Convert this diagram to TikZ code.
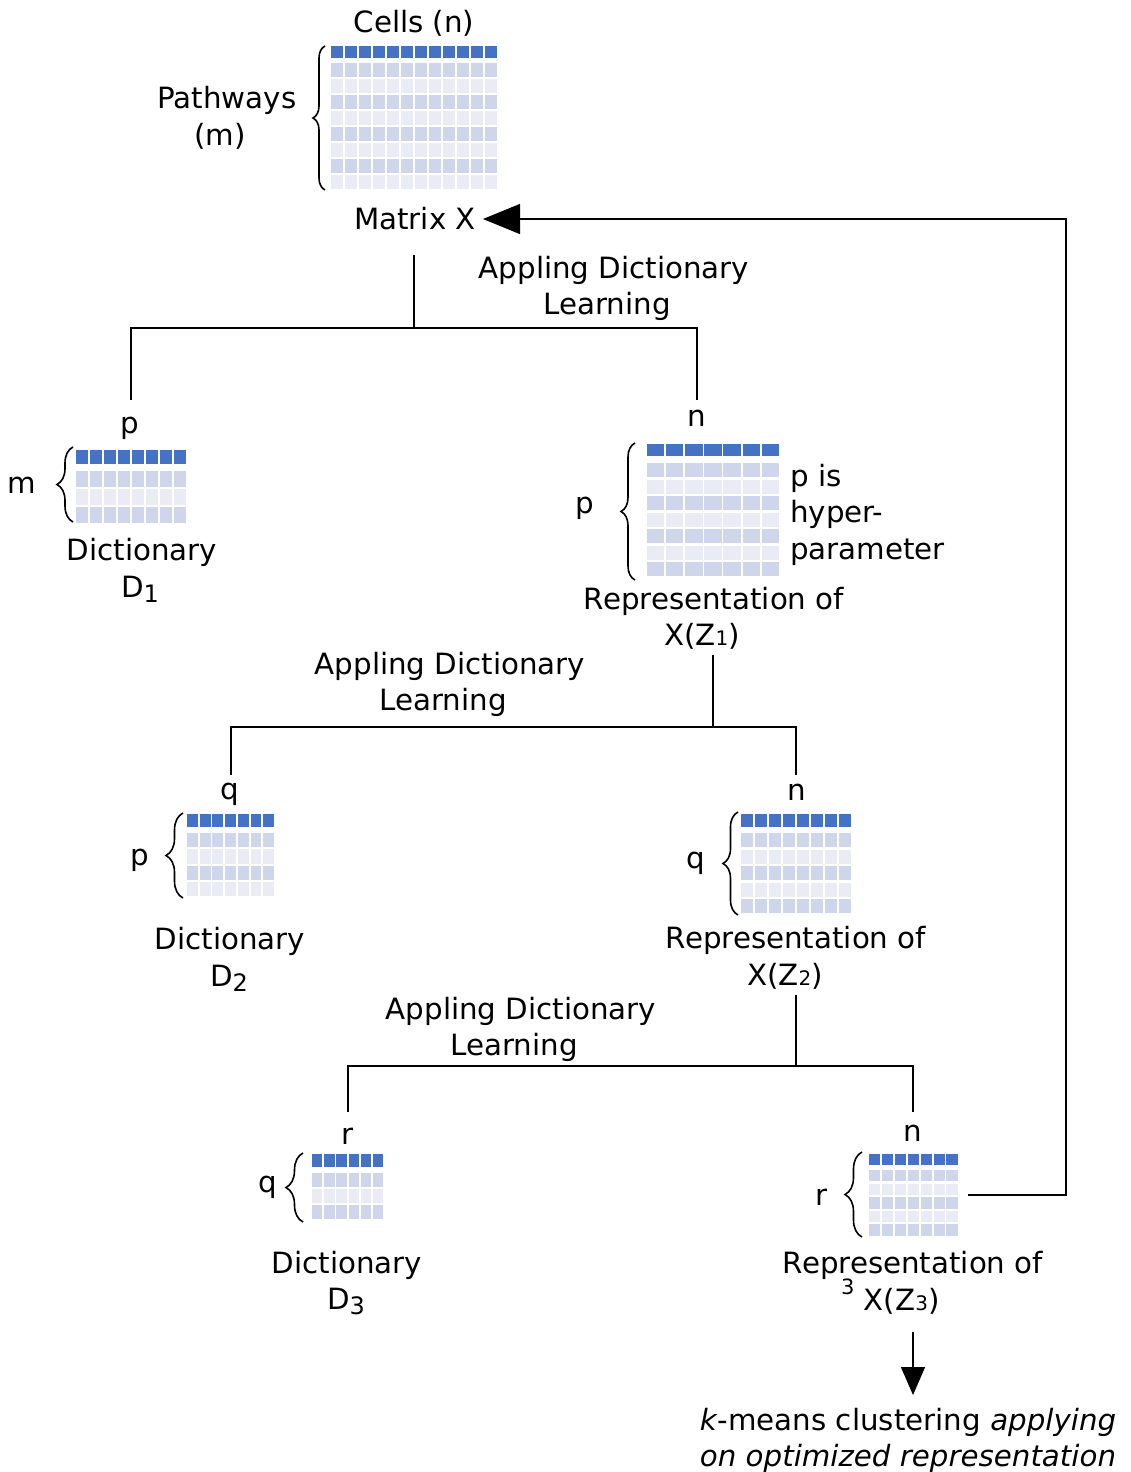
\documentclass[tikz,border=0pt]{standalone}
\usepackage{fontspec}
\setmainfont{DejaVu Sans}
\usetikzlibrary{arrows.meta,decorations.pathreplacing}
\definecolor{dk}{HTML}{4472C4}
\definecolor{md}{HTML}{CFD5EA}
\definecolor{lt}{HTML}{E9EBF5}
% #1 x0, #2 y of dark row, #3 dark height, #4 y of first light row,
% #5 columns, #6 light rows, #7 column pitch, #8 row pitch
\newcommand\cmat[8]{%
  \foreach \ci in {1,...,#5}{%
    \fill[dk] ({#1+(\ci-1)*#7},#2) rectangle ++({#7-1.8},#3);
    \foreach \rj in {1,...,#6}{%
      \ifodd\rj\relax\colorlet{cc}{md}\else\colorlet{cc}{lt}\fi
      \fill[cc] ({#1+(\ci-1)*#7},{#4+(\rj-1)*#8}) rectangle ++({#7-1.8},{#8-2.2});
    }%
  }%
}
\newcommand\dsub[1]{\raisebox{-5pt}{\fontsize{24}{24}\selectfont #1}}
\newcommand\zsub[1]{{\fontsize{20}{20}\selectfont #1}}
\tikzset{
  lab/.style={anchor=base, inner sep=0pt, font=\fontsize{29.3}{36}\selectfont},
  labw/.style={lab, anchor=base west},
  conn/.style={draw=black, line width=1.3pt},
  brc/.style={draw=black, line width=1.6pt, decorate},
}
\begin{document}
\begin{tikzpicture}[x=1pt,y=-1pt]
\useasboundingbox (0,0) rectangle (1130,1472);

% ---------- matrices ----------
\cmat{331}{46}{12}{63}{12}{8}{14}{16}
\cmat{76}{450}{14}{471}{8}{3}{14}{18}
\cmat{647}{444}{12}{463}{7}{7}{19.1}{16.5}
\cmat{187}{814}{13}{833}{7}{4}{12.7}{16.4}
\cmat{741}{814}{13}{833}{8}{5}{14}{16.5}
\cmat{312}{1154}{13}{1173}{6}{3}{12.2}{16}
\cmat{869}{1154}{10.5}{1170}{7}{5}{12.9}{13.6}

% ---------- braces ----------
\draw[brc, decoration={brace,amplitude=12pt}] (325,190) -- (325,46);
\draw[brc, decoration={brace,amplitude=16pt}] (73,522) -- (73,447);
\draw[brc, decoration={brace,amplitude=14pt}] (635,580) -- (635,443);
\draw[brc, decoration={brace,amplitude=17pt}] (183,898) -- (183,813);
\draw[brc, decoration={brace,amplitude=15pt}] (738,915) -- (738,812);
\draw[brc, decoration={brace,amplitude=17pt}] (303,1222) -- (303,1153);
\draw[brc, decoration={brace,amplitude=17pt}] (862,1237) -- (862,1152);

% ---------- labels ----------
\node[lab] (cells) at (414,33) {Cells (n)};
\node[lab] (pw1) at (227,108) {Pathways};
\node[lab] (pw2) at (220,145) {(m)};
\node[lab] (matx) at (415,229) {Matrix X};

\node[lab] (adl1a) at (614,278) {Appling Dictionary};
\node[lab] (adl1b) at (607,314) {Learning};

\node[lab] (p1) at (130,433) {p};
\node[lab] (n1) at (697,426) {n};
\node[lab] (m1) at (22,493) {m};
\node[lab] (d1a) at (142,560) {Dictionary};
\node[lab] (d1b) at (140,597) {D\dsub{1}};

\node[lab] (pz1) at (585,513) {p};
\node[labw] (hp1) at (790,486) {p is};
\node[labw] (hp2) at (790,522) {hyper-};
\node[labw] (hp3) at (790,559) {parameter};
\node[lab] (r1a) at (714,609) {Representation of};
\node[lab] (r1b) at (702,645) {X(Z\zsub{1})};

\node[lab] (adl2a) at (450,674) {Appling Dictionary};
\node[lab] (adl2b) at (443,710) {Learning};

\node[lab] (q2) at (230,799) {q};
\node[lab] (n2) at (797,800) {n};
\node[lab] (p2) at (140,865) {p};
\node[lab] (d2a) at (230,949) {Dictionary};
\node[lab] (d2b) at (229,986) {D\dsub{2}};
\node[lab] (qz2) at (696,868) {q};
\node[lab] (r2a) at (796,948) {Representation of};
\node[lab] (r2b) at (785,985) {X(Z\zsub{2})};

\node[lab] (adl3a) at (521,1019) {Appling Dictionary};
\node[lab] (adl3b) at (514,1055) {Learning};

\node[lab] (r3) at (348,1144) {r};
\node[lab] (n3) at (913,1141) {n};
\node[lab] (q3) at (268,1192) {q};
\node[lab] (d3a) at (347,1273) {Dictionary};
\node[lab] (d3b) at (346,1309) {D\dsub{3}};
\node[lab] (rz3) at (822,1205) {r};
\node[lab] (r3a) at (913,1273) {Representation of};
\node[labw] (r3b) at (841,1310) {\raisebox{16pt}{\fontsize{21}{21}\selectfont 3} X(Z\zsub{3})};

\node[lab] (km1) at (908,1430) {\textit{k}-means clustering \textit{applying}};
\node[lab] (km2) at (908,1466) {\textit{on optimized representation}};

% ---------- connector points ----------
\coordinate (a0) at (414,255);
\coordinate (a1) at (414,328);
\coordinate (aL) at (131,400);
\coordinate (aR) at (697,400);
\coordinate (b0) at (713,655);
\coordinate (b1) at (713,727);
\coordinate (bL) at (231,775);
\coordinate (bR) at (796,775);
\coordinate (c0) at (796,995);
\coordinate (c1) at (796,1066);
\coordinate (cL) at (348,1112);
\coordinate (cR) at (913,1112);
\coordinate (z3out) at (968,1195);
\coordinate (fb) at (1066,1195);
\coordinate (xin) at (483,219);
\coordinate (dn0) at (913,1332);
\coordinate (dn1) at (913,1395);

% ---------- connectors ----------
\draw[conn] (a0) -- (a1);
\draw[conn] (aL) -- (aL |- a1) -- (aR |- a1) -- (aR);
\draw[conn] (b0) -- (b1);
\draw[conn] (bL) -- (bL |- b1) -- (bR |- b1) -- (bR);
\draw[conn] (c0) -- (c1);
\draw[conn] (cL) -- (cL |- c1) -- (cR |- c1) -- (cR);
\draw[conn, -{Triangle[length=37pt,width=30pt]}] (z3out) -- (fb) -- (fb |- xin) -- (xin);
\draw[conn, -{Triangle[length=28pt,width=24pt]}] (dn0) -- (dn1);
\end{tikzpicture}
\end{document}
